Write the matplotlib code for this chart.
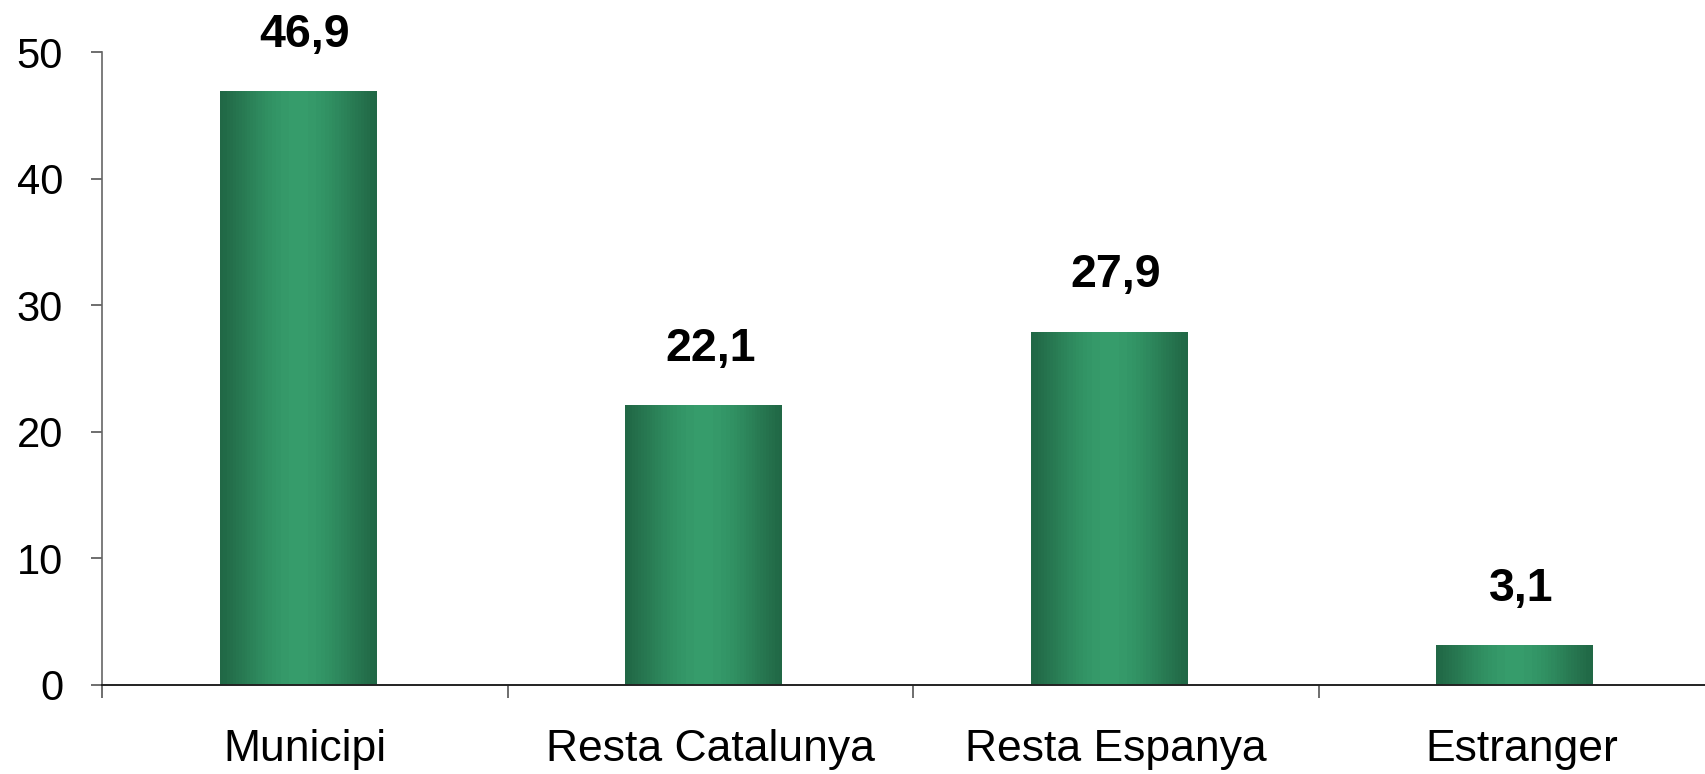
import numpy as np
import matplotlib
matplotlib.use("Agg")
import matplotlib.pyplot as plt
from matplotlib.colors import LinearSegmentedColormap

plt.rcParams['font.family'] = ['Liberation Sans', 'DejaVu Sans']

categories = ["Municipi", "Resta Catalunya", "Resta Espanya", "Estranger"]
values = [46.9, 22.1, 27.9, 3.1]
value_labels = ["46,9", "22,1", "27,9", "3,1"]
yticks = [0, 10, 20, 30, 40, 50]

# horizontal shading of each column: dark edges, light middle
green = LinearSegmentedColormap.from_list("green", ["#216846", "#369C6B"])
t = np.linspace(0, 1, 400)
shade = np.sin(np.pi * t) ** 1.3
shade = np.round(shade * 20) / 20
shade = shade[np.newaxis, :]

fig = plt.figure(figsize=(17.06, 7.74), dpi=100)
ax = fig.add_axes([0.0598, 0.1156, 0.9508, 0.8168])

bar_w = 0.387
x = np.arange(len(categories))
bars = ax.bar(x - 0.016, values, width=bar_w, color="none", edgecolor="none")
for xi, b, lab in zip(x, bars, value_labels):
    x0 = b.get_x()
    h = b.get_height()
    ax.imshow(shade, extent=[x0, x0 + bar_w, 0, h], aspect="auto",
              cmap=green, vmin=0, vmax=1, interpolation="nearest", zorder=2)
    ax.annotate(lab, (xi, h), xytext=(0, 32),
                textcoords="offset points", ha="center", va="baseline",
                fontsize=33.5, fontweight="bold", color="black")

ax.set_xlim(-0.5, len(categories) - 0.5)
ax.set_ylim(0, 50)
ax.set_yticks(yticks)
ax.set_yticklabels([str(v) for v in yticks], fontsize=30)
ax.set_xticks(x)
ax.set_xticklabels(categories, fontsize=32)
ax.set_xticks(np.arange(-0.5, len(categories)), minor=True)
ax.tick_params(axis="x", which="major", length=0, pad=32)
ax.tick_params(axis="x", which="minor", length=9, width=1.2, color="#555555", direction="out")
ax.tick_params(axis="y", length=8, width=1.2, color="#555555", direction="out", pad=20)

for side in ["top", "right"]:
    ax.spines[side].set_visible(False)
ax.spines["left"].set_color("#666666")
ax.spines["left"].set_linewidth(1.2)
ax.spines["bottom"].set_color("#222222")
ax.spines["bottom"].set_linewidth(1.4)
ax.spines["bottom"].set_clip_on(False)

fig.savefig("out.png", dpi=100)
